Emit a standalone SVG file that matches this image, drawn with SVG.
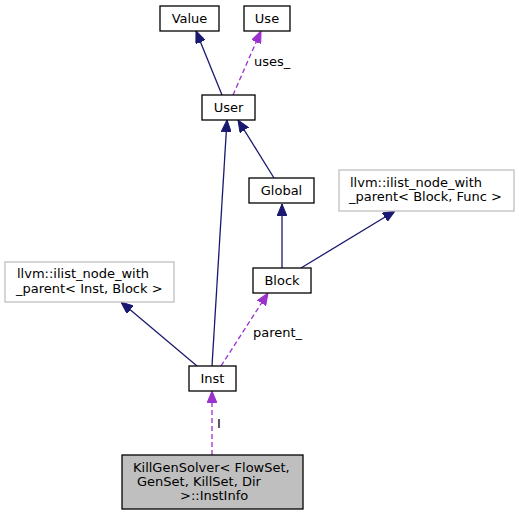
<svg xmlns="http://www.w3.org/2000/svg" width="519" height="516" viewBox="0 0 519 516">
<style>
  .box { fill: #ffffff; stroke: #000000; stroke-width: 1.3; }
  .ext { fill: #ffffff; stroke: #bfbfbf; stroke-width: 1.3; }
  .cur { fill: #bfbfbf; stroke: #000000; stroke-width: 1.3; }
  text { font-family: "DejaVu Sans", sans-serif; font-size: 13px; fill: #000000; }
  .c { text-anchor: middle; }
  .inh { stroke: #191970; stroke-width: 1.3; fill: none; }
  .use { stroke: #9a32cd; stroke-width: 1.3; fill: none; stroke-dasharray: 5,3; }
</style>
<defs>
  <marker id="aInh" markerUnits="userSpaceOnUse" markerWidth="12" markerHeight="10" refX="12" refY="5" orient="auto">
    <path d="M0,0 L12,5 L0,10 z" fill="#191970" stroke="#191970"/>
  </marker>
  <marker id="aUse" markerUnits="userSpaceOnUse" markerWidth="12" markerHeight="10" refX="12" refY="5" orient="auto">
    <path d="M0,0 L12,5 L0,10 z" fill="#9a32cd" stroke="#9a32cd"/>
  </marker>
</defs>
<g id="connectors">
  <line class="inh" x1="222" y1="95" x2="196" y2="31" marker-end="url(#aInh)"/>
  <line class="use" x1="233" y1="95" x2="261" y2="31" marker-end="url(#aUse)"/>
  <text x="254" y="66">uses_</text>
  <line class="inh" x1="212" y1="366" x2="227" y2="120" marker-end="url(#aInh)"/>
  <line class="inh" x1="274" y1="178" x2="238" y2="120" marker-end="url(#aInh)"/>
  <line class="inh" x1="282" y1="268" x2="282" y2="204" marker-end="url(#aInh)"/>
  <line class="inh" x1="301" y1="268" x2="395" y2="211" marker-end="url(#aInh)"/>
  <line class="inh" x1="197" y1="366" x2="121" y2="302" marker-end="url(#aInh)"/>
  <line class="use" x1="221" y1="366" x2="268" y2="293" marker-end="url(#aUse)"/>
  <text x="253" y="337">parent_</text>
  <line class="use" x1="212" y1="455" x2="212" y2="391" marker-end="url(#aUse)"/>
  <text x="217" y="428">I</text>
</g>
<g id="Value">
  <rect class="box" x="160" y="6" width="59" height="25"/>
  <text class="c" x="189.5" y="23">Value</text>
</g>
<g id="Use">
  <rect class="box" x="244" y="6" width="46" height="25"/>
  <text class="c" x="267" y="23">Use</text>
</g>
<g id="User">
  <rect class="box" x="202" y="95" width="53" height="25"/>
  <text class="c" x="228.5" y="112">User</text>
</g>
<g id="Global">
  <rect class="box" x="249" y="178" width="65" height="25"/>
  <text class="c" x="281.5" y="195">Global</text>
</g>
<g id="ilist_Block_Func">
  <rect class="ext" x="339" y="170" width="175" height="41"/>
  <text x="350" y="187">llvm::ilist_node_with</text>
  <text x="349" y="201">_parent&lt; Block, Func &gt;</text>
</g>
<g id="Block">
  <rect class="box" x="253" y="268" width="58" height="25"/>
  <text class="c" x="282" y="285">Block</text>
</g>
<g id="ilist_Inst_Block">
  <rect class="ext" x="5" y="262" width="169" height="40"/>
  <text x="17" y="278">llvm::ilist_node_with</text>
  <text x="16" y="293">_parent&lt; Inst, Block &gt;</text>
</g>
<g id="Inst">
  <rect class="box" x="189" y="366" width="47" height="25"/>
  <text class="c" x="212.5" y="383">Inst</text>
</g>
<g id="InstInfo">
  <rect class="cur" x="122" y="455" width="181" height="54"/>
  <text x="133" y="472">KillGenSolver&lt; FlowSet,</text>
  <text x="137" y="486">GenSet, KillSet, Dir</text>
  <text x="180" y="500">&gt;::InstInfo</text>
</g>
</svg>
